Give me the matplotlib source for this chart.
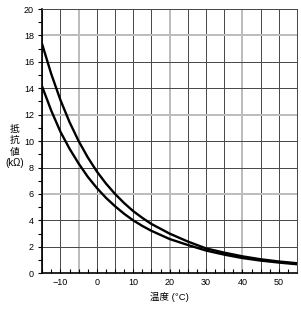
import numpy as np
import matplotlib
matplotlib.use("Agg")
import matplotlib.pyplot as plt

plt.rcParams['font.family'] = ['Liberation Sans', 'Noto Sans CJK JP', 'DejaVu Sans']

# temperature (degC) and resistance (kOhm)
temp = [-15, -12.5, -10, -7.5, -5, -2.5, 0, 2.5, 5, 7.5, 10, 12.5, 15,
        20, 25, 30, 35, 40, 45, 50, 55]
r_upper = [17.3, 15.05, 13.1, 11.43, 10.0, 8.77, 7.7, 6.79, 6.0, 5.31, 4.7, 4.19, 3.73,
           3.0, 2.4, 1.88, 1.56, 1.28, 1.06, 0.89, 0.76]
r_lower = [14.1, 12.28, 10.7, 9.42, 8.3, 7.3, 6.45, 5.71, 5.07, 4.5, 4.0, 3.58, 3.21,
           2.59, 2.14, 1.72, 1.41, 1.15, 0.96, 0.81, 0.68]

xticks = [-10, 0, 10, 20, 30, 40, 50]
yticks = [0, 2, 4, 6, 8, 10, 12, 14, 16, 18, 20]
gray_x = [-5, 20, 40]
gray_y = [6, 12, 18]

fig = plt.figure(figsize=(3.01, 3.17), dpi=100)
ax = fig.add_axes([0.1405, 0.138, 0.8462, 0.8336])

# grid
for x in np.arange(-15, 56, 5):
    if x in gray_x:
        ax.axvline(x, color='#bdbdbd', lw=1.44, zorder=1, snap=True, antialiased=False)
    else:
        ax.axvline(x, color='#4a4a4a', lw=0.72, zorder=1, snap=True, antialiased=False)
for y in range(0, 21, 2):
    if y in gray_y:
        ax.axhline(y, color='#bdbdbd', lw=1.44, zorder=1, snap=True, antialiased=False)
    else:
        ax.axhline(y, color='#4a4a4a', lw=0.72, zorder=1, snap=True, antialiased=False)

ax.plot(temp, r_upper, color='black', lw=1.7, zorder=3)
ax.plot(temp, r_lower, color='black', lw=1.7, zorder=3)

ax.set_xlim(-15, 55)
ax.set_ylim(0, 20)
ax.set_xticks(xticks)
ax.set_xticks(np.arange(-15, 56, 2.5), minor=True)
ax.set_yticks(yticks)
ax.set_yticks(range(0, 21), minor=True)

ax.tick_params(axis='x', which='both', direction='in', length=3, width=0.8,
               labelsize=6.5, pad=3.5)
ax.tick_params(axis='y', which='both', direction='out', length=3, width=0.8,
               labelsize=6.5, pad=3)

for s in ['top', 'right']:
    ax.spines[s].set_color('#4a4a4a')
    ax.spines[s].set_linewidth(0.72)
for s in ['left', 'bottom']:
    ax.spines[s].set_color('black')
    ax.spines[s].set_linewidth(1.2)

ax.set_xlabel('温度 (°C)', fontsize=6.8, labelpad=3)
fig.text(15 / 301, 1 - 146 / 317, '抵\n抗\n値\n(kΩ)', fontsize=7,
         ha='center', va='center', linespacing=1.15)

fig.savefig('out.png', dpi=100)
